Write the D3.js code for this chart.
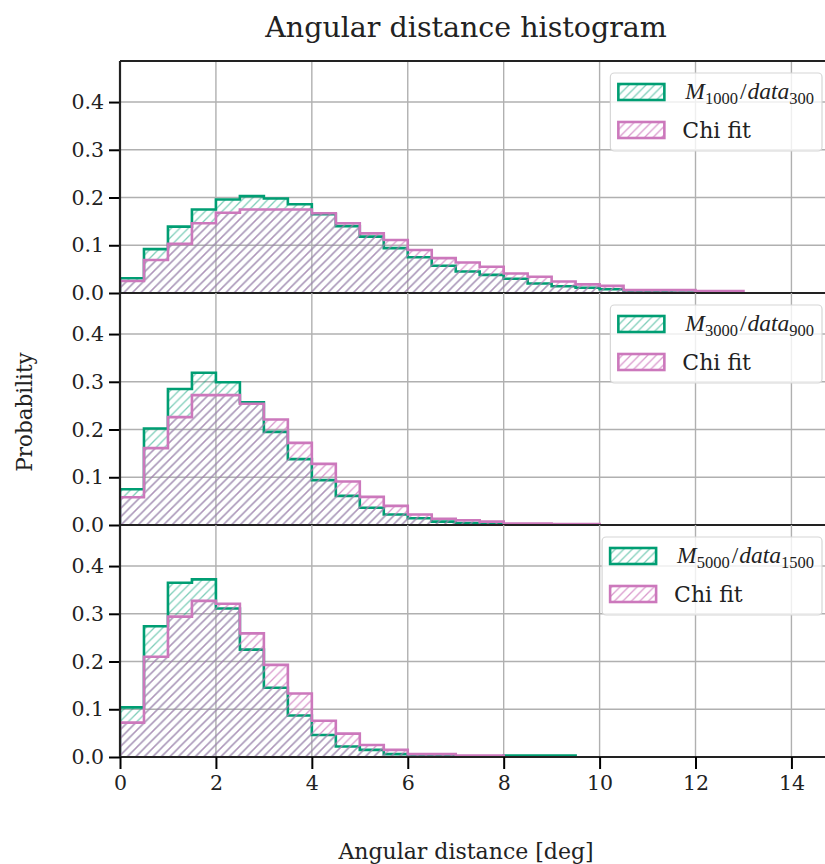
<!DOCTYPE html>
<html><head><meta charset="utf-8">
<script src="https://cdn.jsdelivr.net/npm/d3@7"></script>
<style>body{margin:0;background:#fff}</style></head>
<body><svg id="c" width="825" height="864"></svg>
<script>
// ---- data ----
const binWidth = 0.5;
const xTicks = [0, 2, 4, 6, 8, 10, 12, 14];
const xTickLabels = ["0", "2", "4", "6", "8", "10", "12", "14"];
const yTicks = [0, 0.1, 0.2, 0.3, 0.4];
const yTickLabels = ["0.0", "0.1", "0.2", "0.3", "0.4"];

const m1000 = [0.031, 0.092, 0.139, 0.175, 0.196, 0.203, 0.198, 0.186, 0.165, 0.140, 0.118, 0.094, 0.075, 0.057, 0.045, 0.038, 0.030, 0.020, 0.014, 0.011, 0.008, 0.002, 0.002, 0.001];
const chi1000 = [0.025, 0.069, 0.103, 0.146, 0.168, 0.175, 0.175, 0.175, 0.167, 0.146, 0.125, 0.111, 0.090, 0.073, 0.064, 0.055, 0.041, 0.034, 0.024, 0.018, 0.015, 0.006, 0.006, 0.006, 0.004, 0.004];
const m3000 = [0.075, 0.202, 0.285, 0.319, 0.299, 0.257, 0.195, 0.138, 0.094, 0.061, 0.036, 0.022, 0.014, 0.007, 0.004, 0.002, 0.001, 0.001];
const chi3000 = [0.058, 0.161, 0.226, 0.272, 0.272, 0.254, 0.221, 0.172, 0.128, 0.091, 0.059, 0.040, 0.022, 0.013, 0.010, 0.007, 0.003, 0.003, 0.002, 0.002];
const m5000 = [0.104, 0.274, 0.365, 0.372, 0.311, 0.225, 0.145, 0.087, 0.046, 0.022, 0.015, 0.006, 0.002, 0.002, 0.001, 0.001, 0.003, 0.003, 0.003];
const chi5000 = [0.072, 0.210, 0.294, 0.327, 0.321, 0.259, 0.193, 0.133, 0.076, 0.049, 0.025, 0.015, 0.006, 0.006, 0.003, 0.003];

const legendModel = [["M", "1000", "data", "300"], ["M", "3000", "data", "900"], ["M", "5000", "data", "1500"]];
const legendFit = "Chi fit";
const titleText = "Angular distance histogram";
const xLabel = "Angular distance [deg]";
const yLabel = "Probability";

// ---- layout ----
const left = 120, right = 825;
const panelTops = [61, 293, 525];
const panelH = 232;
const green = "#009E73", pink = "#CC78BC";
const font = "DejaVu Serif";

const svg = d3.select("#c");
const x = d3.scaleLinear().domain([0, 14.7]).range([left, right]);

const defs = svg.append("defs");
function hatch(id, color, op) {
  const s = 8.5;
  const p = defs.append("pattern").attr("id", id).attr("patternUnits", "userSpaceOnUse")
    .attr("width", s).attr("height", s);
  p.append("path").attr("d", `M0,${s} L${s},0 M${-s/4},${s/4} L${s/4},${-s/4} M${3*s/4},${5*s/4} L${5*s/4},${3*s/4}`)
    .attr("stroke", color).attr("stroke-opacity", op).attr("stroke-width", 1.3);
}
hatch("hg", green, 0.5);
hatch("hp", pink, 0.75);
defs.append("clipPath").attr("id", "clip").append("rect")
  .attr("x", left).attr("y", panelTops[0]).attr("width", right - left).attr("height", panelH * 3);

const series = [[m1000, chi1000], [m3000, chi3000], [m5000, chi5000]];

function stepPoints(vals, y) {
  const pts = [[x(0), y(0)]];
  vals.forEach((v, i) => {
    pts.push([x(i * binWidth), y(v)]);
    pts.push([x((i + 1) * binWidth), y(v)]);
  });
  pts.push([x(vals.length * binWidth), y(0)]);
  return pts;
}
const line = d3.line();

panelTops.forEach((top, pi) => {
  const y = d3.scaleLinear().domain([0, 0.486]).range([top + panelH, top]);
  const g = svg.append("g");
  // grid
  g.selectAll(".gx").data(xTicks).join("line")
    .attr("x1", d => x(d)).attr("x2", d => x(d)).attr("y1", top).attr("y2", top + panelH)
    .attr("stroke", "#b0b0b0").attr("stroke-width", 1.4);
  g.selectAll(".gy").data(yTicks).join("line")
    .attr("x1", left).attr("x2", right).attr("y1", d => y(d)).attr("y2", d => y(d))
    .attr("stroke", "#b0b0b0").attr("stroke-width", 1.4);
  const [mv, cv] = series[pi];
  const hg = g.append("g").attr("clip-path", "url(#clip)");
  hg.append("path").attr("d", line(stepPoints(mv, y)) + "Z").attr("fill", "url(#hg)").attr("stroke", "none");
  hg.append("path").attr("d", line(stepPoints(mv, y))).attr("fill", "none").attr("stroke", green).attr("stroke-width", 2.6);
  hg.append("path").attr("d", line(stepPoints(cv, y)) + "Z").attr("fill", "url(#hp)").attr("stroke", "none");
  hg.append("path").attr("d", line(stepPoints(cv, y))).attr("fill", "none").attr("stroke", pink).attr("stroke-width", 2.6);

  // y axis
  const ya = g.append("g").attr("transform", `translate(${left},0)`)
    .call(d3.axisLeft(y).tickValues(yTicks).tickFormat((d, i) => yTickLabels[i]).tickSize(11).tickPadding(5));
  ya.select(".domain").remove();
  ya.selectAll("line").attr("stroke", "#000").attr("stroke-width", 2);
  ya.selectAll("text").attr("font-family", font).attr("font-size", 20.5).attr("fill", "#222");

  // spines
  g.append("line").attr("x1", left).attr("x2", right).attr("y1", top + panelH).attr("y2", top + panelH)
    .attr("stroke", "#222").attr("stroke-width", 2.2);
  if (pi === 0) g.append("line").attr("x1", left).attr("x2", right).attr("y1", top).attr("y2", top)
    .attr("stroke", "#222").attr("stroke-width", 2.2);
  g.append("line").attr("x1", left).attr("x2", left).attr("y1", top).attr("y2", top + panelH)
    .attr("stroke", "#222").attr("stroke-width", 2.2);

  // legend
  const lg = g.append("g");
  const box = lg.append("rect");
  const row1 = top + 31, row2 = top + 69;
  const txt = lg.append("text").attr("font-family", "Liberation Serif").attr("font-size", 23.5).attr("fill", "#222")
    .attr("y", row1 + 7);
  const L = legendModel[pi];
  txt.append("tspan").attr("font-style", "italic").attr("dx", 3).text(L[0]);
  txt.append("tspan").attr("font-size", 16.5).attr("dy", 5).text(L[1]);
  txt.append("tspan").attr("dy", -5).attr("dx", 2).text("/");
  txt.append("tspan").attr("font-style", "italic").attr("dx", 1).text(L[2]);
  txt.append("tspan").attr("font-size", 16.5).attr("dy", 5).text(L[3]);
  const txt2 = lg.append("text").attr("font-family", font).attr("font-size", 22).attr("fill", "#222")
    .attr("y", row2 + 8).text(legendFit);
  const tw = Math.max(txt.node().getComputedTextLength() + 4, txt2.node().getComputedTextLength());
  const bw = 8 + 46 + 18 + tw + 10;
  const bx = 822 - bw;
  box.attr("x", bx).attr("y", top + 12).attr("width", bw).attr("height", 78).attr("rx", 4)
    .attr("fill", "#fff").attr("fill-opacity", 0.8).attr("stroke", "#d6d6d6").attr("stroke-width", 1.2);
  txt.attr("x", bx + 72);
  txt2.attr("x", bx + 72);
  [[row1, green, "url(#hg)"], [row2, pink, "url(#hp)"]].forEach(([ry, c, f]) => {
    lg.append("rect").attr("x", bx + 8).attr("y", ry - 8).attr("width", 46).attr("height", 16)
      .attr("fill", f).attr("stroke", c).attr("stroke-width", 2.6);
  });

  if (pi === 2) {
    const xa = g.append("g").attr("transform", `translate(0,${top + panelH})`)
      .call(d3.axisBottom(x).tickValues(xTicks).tickFormat((d, i) => xTickLabels[i]).tickSize(12).tickPadding(6));
    xa.select(".domain").remove();
    xa.selectAll("line").attr("stroke", "#000").attr("stroke-width", 2);
    xa.selectAll("text").attr("font-family", font).attr("font-size", 20.5).attr("fill", "#222");
  }
});

svg.append("text").attr("x", 466).attr("y", 37).attr("text-anchor", "middle")
  .attr("font-family", font).attr("font-size", 28.5).attr("fill", "#222").text(titleText);
svg.append("text").attr("x", 466).attr("y", 859).attr("text-anchor", "middle")
  .attr("font-family", font).attr("font-size", 22).attr("fill", "#222").text(xLabel);
svg.append("text").attr("transform", "translate(32,412) rotate(-90)").attr("text-anchor", "middle")
  .attr("font-family", font).attr("font-size", 21.5).attr("fill", "#222").text(yLabel);
</script></body></html>
